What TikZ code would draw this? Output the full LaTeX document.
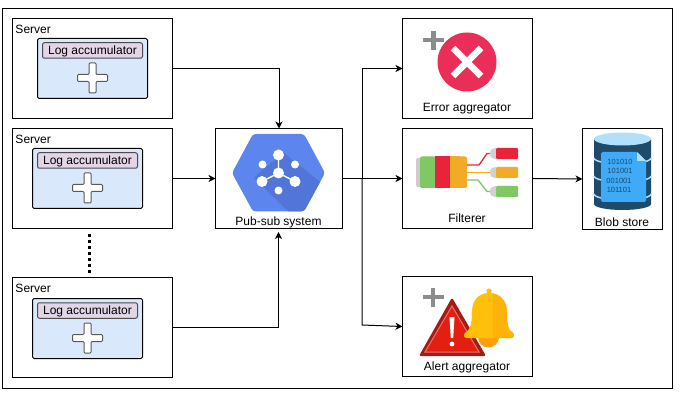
\documentclass[tikz,border=0pt]{standalone}
\usepackage{fontspec}
\setmainfont{Liberation Sans}
\usetikzlibrary{arrows.meta}
\definecolor{bluebox}{HTML}{DAE8FC}
\definecolor{purplebox}{HTML}{E1D5E7}
\definecolor{hexblue}{HTML}{5C85EE}
\definecolor{hexshade}{HTML}{5175D8}
\definecolor{errred}{HTML}{EA2E57}
\definecolor{tagred}{HTML}{E8233C}
\definecolor{tagorange}{HTML}{F2AB27}
\definecolor{taggreen}{HTML}{80C765}
\definecolor{dbdark}{HTML}{1D4A6D}
\definecolor{dblight}{HTML}{B0E0FB}
\definecolor{docblue}{HTML}{3FAAF8}
\definecolor{alertdark}{HTML}{A51C14}
\definecolor{alertred}{HTML}{E21F10}
\definecolor{alertpink}{HTML}{EB7070}
\definecolor{bellyellow}{HTML}{FFBF0A}
\definecolor{bellshade}{HTML}{FFB30A}
\definecolor{bellorange}{HTML}{FF9F0A}
\tikzset{
  x=1pt,y=-1pt,
  every node/.style={font=\fontsize{12}{14}\selectfont,inner sep=0pt,outer sep=0pt},
  panel/.style={draw=black,line width=1pt,fill=white,rectangle},
  bluepanel/.style={panel,fill=bluebox,rounded corners=1.5pt,minimum width=110pt,minimum height=60pt},
  serverbox/.style={panel,minimum width=160pt,minimum height=100pt},
  loglabel/.style={draw=black!70,line width=1pt,fill=purplebox,rounded corners=2pt,minimum width=100pt,minimum height=15.5pt,text depth=0pt},
  plusicon/.style={draw=black!65,line width=1pt,fill=white,rounded corners=1pt},
  flow/.style={draw=black,line width=1pt,-{Stealth[length=7pt,width=7pt,inset=2pt]}},
  grayplus/.style={draw=gray!90,line width=4.5pt},
}
\newcommand{\plusat}[2]{%
  \draw[plusicon] (#1-15,#2-3.5) -- (#1-3.5,#2-3.5) -- (#1-3.5,#2-15) -- (#1+3.5,#2-15) -- (#1+3.5,#2-3.5) -- (#1+15,#2-3.5) -- (#1+15,#2+3.5) -- (#1+3.5,#2+3.5) -- (#1+3.5,#2+15) -- (#1-3.5,#2+15) -- (#1-3.5,#2+3.5) -- (#1-15,#2+3.5) -- cycle;}
\begin{document}
\begin{tikzpicture}
\useasboundingbox (0,0) rectangle (699,406);
\node[panel,minimum width=670pt,minimum height=379pt] (frame) at (337.5,198.5) {};

% servers
\node[serverbox] (s1) at (92.5,68.5) {};
\node[serverbox] (s2) at (92.5,178.5) {};
\node[serverbox] (s3) at (92.5,327.5) {};
\node[anchor=west] (s1t) at (15.5,29.5) {Server};
\node[anchor=west] (s2t) at (15.5,139.5) {Server};
\node[anchor=west] (s3t) at (15.5,288.5) {Server};
\node[bluepanel] (b1) at (92.5,68.5) {};
\node[bluepanel] (b2) at (87.5,178.5) {};
\node[bluepanel] (b3) at (87.5,328.5) {};
\node[loglabel] (l1) at (92.5,50.5) {Log accumulator};
\node[loglabel] (l2) at (87.5,160.5) {Log accumulator};
\node[loglabel] (l3) at (87.5,310.5) {Log accumulator};
\plusat{92.5}{78}
\plusat{87.5}{188}
\plusat{87.5}{338}
\coordinate (dotA) at (89.5,234);
\coordinate (dotB) at (89.5,274);
\draw[line width=3pt,dash pattern=on 3pt off 3pt] (dotA) -- (dotB);

% pub-sub
\node[panel,minimum width=127pt,minimum height=100pt] (pub) at (279,178.5) {};
\begin{scope}
\clip[rounded corners=3pt] (232,173) -- (253,134) -- (304,134) -- (325,173) -- (304,211.5) -- (253,211.5) -- cycle;
\fill[hexblue] (225,130) rectangle (330,215);
\fill[hexshade] (284,153) -- (330,190) -- (330,215) -- (292,215) -- (254,178) -- (262,170) -- cycle;
\end{scope}
\draw[white,line width=1.4pt] (278.5,155) -- (278.5,173) -- (262,181.5) (278.5,173) -- (295,181.5);
\fill[white] (278.5,173) circle (5.5) (278.5,155) circle (5.5) (262.5,164.5) circle (4) (295,164.5) circle (4)
  (262,181.5) circle (5.5) (295,181.5) circle (5.5) (278.5,190.5) circle (4);
\node (pubt) at (278.5,222) {Pub-sub system};

% error
\node[panel,minimum width=130pt,minimum height=100pt] (err) at (467.5,68.5) {};
\fill[errred] (467,62) circle (29.5);
\draw[white,line width=6.5pt] (453,48) -- (481,76) (481,48) -- (453,76);
\draw[grayplus] (422.5,40) -- (444,40) (433.5,31) -- (433.5,50);
\node (errt) at (467,109) {Error aggregator};

% filterer
\node[panel,minimum width=130pt,minimum height=100pt] (filt) at (467.5,178.5) {};
\fill[black!20,rounded corners=2pt] (416,158) rectangle (424,187);
\fill[taggreen,rounded corners=2pt] (420,156.5) rectangle (436,188);
\fill[tagred] (435,156.5) rectangle (451,188);
\fill[tagorange,rounded corners=2pt] (450,156.5) rectangle (467,188);
\fill[tagorange] (450,156.5) rectangle (460,188);
\draw[tagred,line width=1.3pt] (467,165) -- (479,165) -- (487,153.5) -- (496,153.5);
\draw[tagorange,line width=1.3pt] (467,172.5) -- (496,172.5);
\draw[taggreen,line width=1.3pt] (467,180) -- (478,180) -- (487,191.5) -- (496,191.5);
\foreach \yy/\cc in {153.5/tagred,172.5/tagorange,191.5/taggreen}{
  \fill[black!18] (495,\yy) circle (5.5);
  \fill[\cc,rounded corners=1pt] (496,\yy-5.5) rectangle (518,\yy+5.5);
}
\node (filtt) at (467,218) {Filterer};

% alert
\node[panel,minimum width=130pt,minimum height=100pt] (alert) at (467.5,326.5) {};
\draw[grayplus] (422.5,297) -- (444,297) (433,288) -- (433,307);
\fill[alertdark,rounded corners=1.5pt] (452,297.5) -- (486,356) -- (419,356) -- cycle;
\fill[alertred] (452,306) -- (479,352) -- (425,352) -- cycle;
\draw[alertpink,line width=1pt] (452,306) -- (479,352) -- (425,352) -- cycle;
\fill[white] (449.5,317) -- (454.5,317) -- (453.2,338) -- (450.8,338) -- cycle;
\fill[white] (452,344) circle (2.4);
\fill[bellorange] (488.5,337) circle (10.5);
\fill[bellyellow] (489,291) circle (2.6);
\begin{scope}
\clip (489,293) .. controls (478,293) and (472,301) .. (472,312)
  .. controls (472,325) and (470,330) .. (465,333) .. controls (463,335) and (464,338) .. (467,338)
  -- (511,338) .. controls (514,338) and (515,335) .. (513,333)
  .. controls (508,330) and (507,325) .. (507,312) .. controls (507,301) and (500,293) .. (489,293) -- cycle;
\fill[bellyellow] (460,288) rectangle (520,340);
\fill[bellshade] (493,288) rectangle (520,340);
\end{scope}
\node (alertt) at (467,367) {Alert aggregator};

% blob
\node[panel,minimum width=80pt,minimum height=101pt] (blob) at (622.5,179) {};
\fill[dbdark] (594,139) -- (594,204) arc[start angle=180,end angle=360,x radius=28.5,y radius=-6] -- (651,139) -- cycle;
\draw[dblight,line width=1.5pt] (594,158) arc[start angle=180,end angle=360,x radius=28.5,y radius=-6]
  (594,176) arc[start angle=180,end angle=360,x radius=28.5,y radius=-6]
  (594,194) arc[start angle=180,end angle=360,x radius=28.5,y radius=-6];
\fill[dblight] (622.5,139) ellipse (28.5 and 6.5);
\fill[docblue,rounded corners=1.5pt] (601,152) -- (637,152) -- (646,161) -- (646,202) -- (601,202) -- cycle;
\fill[dblight] (637,152) -- (646,161) -- (637,161) -- cycle;
\foreach \yy/\tt/\xx in {162/101010/620,171/101001/620,181/001001/619,190/101101/619}{
  \node[font=\fontsize{7.5}{9}\selectfont,text=dbdark] at (\xx,\yy) {\tt};
}
\node (blobt) at (622,222) {Blob store};

% connectors
\coordinate (jn) at (362,178.5);
\coordinate (jn2) at (362,325);
\coordinate (pubin) at (278.5,232);
\draw[flow] (s1.east) -| (pub.north);
\draw[flow] (s2.east) -- (pub.west);
\draw[flow] (s3.east) -| (pubin);
\draw[flow] (pub.east) -- (filt.west);
\draw[flow] (jn) |- (err.west);
\draw[flow] (jn) -- (jn2) -- (alert.west);
\draw[flow] (filt.east) -- (blob.west);
\end{tikzpicture}
\end{document}
